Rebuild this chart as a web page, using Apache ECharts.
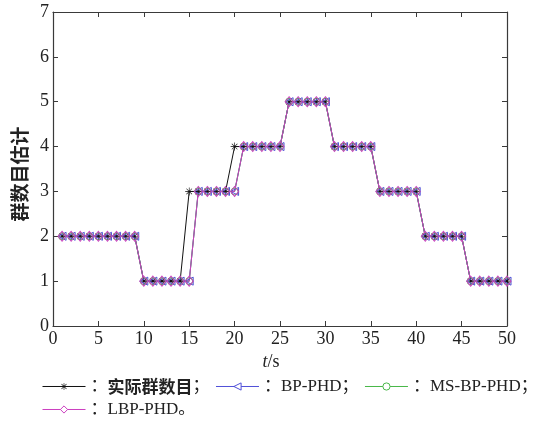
<!DOCTYPE html>
<html>
<head>
<meta charset="utf-8">
<script src="https://cdn.jsdelivr.net/npm/echarts@6/dist/echarts.min.js"></script>
<style>
  html, body { margin: 0; padding: 0; background: #fff; }
  #chart { width: 539px; height: 430px; }
</style>
</head>
<body>
<div id="chart"></div>
<script>
// time steps (s)
const timeSteps = [1, 2, 3, 4, 5, 6, 7, 8, 9, 10,
                   11, 12, 13, 14, 15, 16, 17, 18, 19, 20,
                   21, 22, 23, 24, 25, 26, 27, 28, 29, 30,
                   31, 32, 33, 34, 35, 36, 37, 38, 39, 40,
                   41, 42, 43, 44, 45, 46, 47, 48, 49, 50];

// true number of groups
const trueGroups = [2, 2, 2, 2, 2, 2, 2, 2, 2, 1,
                    1, 1, 1, 1, 3, 3, 3, 3, 3, 4,
                    4, 4, 4, 4, 4, 5, 5, 5, 5, 5,
                    4, 4, 4, 4, 4, 3, 3, 3, 3, 3,
                    2, 2, 2, 2, 2, 1, 1, 1, 1, 1];

// estimated number of groups for each filter
const bpPhd = [2, 2, 2, 2, 2, 2, 2, 2, 2, 1,
               1, 1, 1, 1, 1, 3, 3, 3, 3, 3,
               4, 4, 4, 4, 4, 5, 5, 5, 5, 5,
               4, 4, 4, 4, 4, 3, 3, 3, 3, 3,
               2, 2, 2, 2, 2, 1, 1, 1, 1, 1];
const msBpPhd = [2, 2, 2, 2, 2, 2, 2, 2, 2, 1,
                 1, 1, 1, 1, 1, 3, 3, 3, 3, 3,
                 4, 4, 4, 4, 4, 5, 5, 5, 5, 5,
                 4, 4, 4, 4, 4, 3, 3, 3, 3, 3,
                 2, 2, 2, 2, 2, 1, 1, 1, 1, 1];
const lbpPhd = [2, 2, 2, 2, 2, 2, 2, 2, 2, 1,
                1, 1, 1, 1, 1, 3, 3, 3, 3, 3,
                4, 4, 4, 4, 4, 5, 5, 5, 5, 5,
                4, 4, 4, 4, 4, 3, 3, 3, 3, 3,
                2, 2, 2, 2, 2, 1, 1, 1, 1, 1];

const seriesNames = ['实际群数目', 'BP-PHD', 'MS-BP-PHD', 'LBP-PHD'];
const seriesColors = ['#111111', '#5050d8', '#48b848', '#cc3fc0'];
const xTicks = { min: 0, max: 50, step: 5 };
const yTicks = { min: 0, max: 7, step: 1 };

const pairs = (ys) => timeSteps.map((t, i) => [t, ys[i]]);

// "*" marker: plus sign overlaid with an x
const starPath = 'path://M0,4.6L10,4.6L10,5.4L0,5.4Z M4.6,0L5.4,0L5.4,10L4.6,10Z ' +
  'M1.2,1.8L1.8,1.2L8.8,8.2L8.2,8.8Z M8.2,1.2L8.8,1.8L1.8,8.8L1.2,8.2Z';

const serifFont = '"Liberation Serif", "Times New Roman", "Noto Sans CJK SC", serif';
const cjkFont = '"Noto Sans CJK SC", sans-serif';
const axisColor = '#3a3a3a';

function lineSeries(idx, ys, symbol, size, opts) {
  const color = seriesColors[idx];
  return Object.assign({
    name: seriesNames[idx],
    type: 'line',
    data: pairs(ys),
    symbol: symbol,
    symbolSize: size,
    lineStyle: { color: color, width: 1 },
    itemStyle: { color: 'rgba(255,255,255,0)', borderColor: color, borderWidth: 1 },
    emphasis: { disabled: true },
    animation: false
  }, opts || {});
}

const chart = echarts.init(document.getElementById('chart'), null, { renderer: 'canvas' });

const axisCommon = {
  axisLine: { show: true, onZero: false, lineStyle: { color: axisColor, width: 1.2 } },
  axisTick: { show: true, inside: true, length: 5, lineStyle: { color: axisColor, width: 1 } },
  splitLine: { show: false }
};

// legend entries: hollow markers like the plotted ones, the "*" filled
const legendData = seriesNames.map((name, i) => ({
  name: name,
  itemStyle: i === 0
    ? { color: seriesColors[i], borderWidth: 0 }
    : { color: '#fff', borderColor: seriesColors[i], borderWidth: 1 },
  lineStyle: { color: seriesColors[i], width: 1 }
}));

chart.setOption({
  backgroundColor: '#fff',
  grid: { left: 53, right: 32, top: 12, bottom: 104, containLabel: false },
  xAxis: [
    Object.assign({
      type: 'value', position: 'bottom',
      min: xTicks.min, max: xTicks.max, interval: xTicks.step,
      name: '{i|t}/s',
      nameLocation: 'middle',
      nameGap: 25,
      nameTextStyle: {
        fontFamily: serifFont, fontSize: 18, color: '#222',
        padding: [0, 18, 0, 0],
        rich: { i: { fontFamily: serifFont, fontSize: 18, fontStyle: 'italic', color: '#222' } }
      },
      axisLabel: { fontFamily: serifFont, fontSize: 18, color: '#222', margin: 4 }
    }, axisCommon),
    Object.assign({
      type: 'value', position: 'top',
      min: xTicks.min, max: xTicks.max, interval: xTicks.step,
      axisLabel: { show: false }
    }, axisCommon)
  ],
  yAxis: [
    Object.assign({
      type: 'value', position: 'left',
      min: yTicks.min, max: yTicks.max, interval: yTicks.step,
      name: '群数目估计',
      nameLocation: 'middle',
      nameGap: 23,
      nameTextStyle: {
        fontFamily: cjkFont, fontSize: 19,
        fontWeight: 'bold', color: '#222',
        padding: [0, 10, 0, 0]
      },
      axisLabel: { fontFamily: serifFont, fontSize: 18, color: '#222', margin: 4 }
    }, axisCommon),
    Object.assign({
      type: 'value', position: 'right',
      min: yTicks.min, max: yTicks.max, interval: yTicks.step,
      axisLabel: { show: false }
    }, axisCommon)
  ],
  legend: {
    left: 37,
    top: 373,
    width: 501,
    orient: 'horizontal',
    itemWidth: 43,
    itemHeight: 9,
    itemGap: 6,
    selectedMode: false,
    data: legendData,
    formatter: (name) => {
      const end = name === seriesNames[seriesNames.length - 1] ? '。' : '；';
      return /[\u4e00-\u9fff]/.test(name) ? '：{b|' + name + '}' + end : '：' + name + end;
    },
    textStyle: {
      fontFamily: serifFont, fontSize: 17, color: '#222',
      rich: { b: { fontFamily: cjkFont, fontSize: 17, fontWeight: 'bold', color: '#222' } }
    }
  },
  series: [
    lineSeries(0, trueGroups, starPath, 8, {
      itemStyle: { color: seriesColors[0], borderWidth: 0 }
    }),
    lineSeries(1, bpPhd, 'triangle', 8, { symbolRotate: 90 }),
    lineSeries(2, msBpPhd, 'circle', 7),
    lineSeries(3, lbpPhd, 'diamond', [8, 10])
  ]
});
</script>
</body>
</html>
